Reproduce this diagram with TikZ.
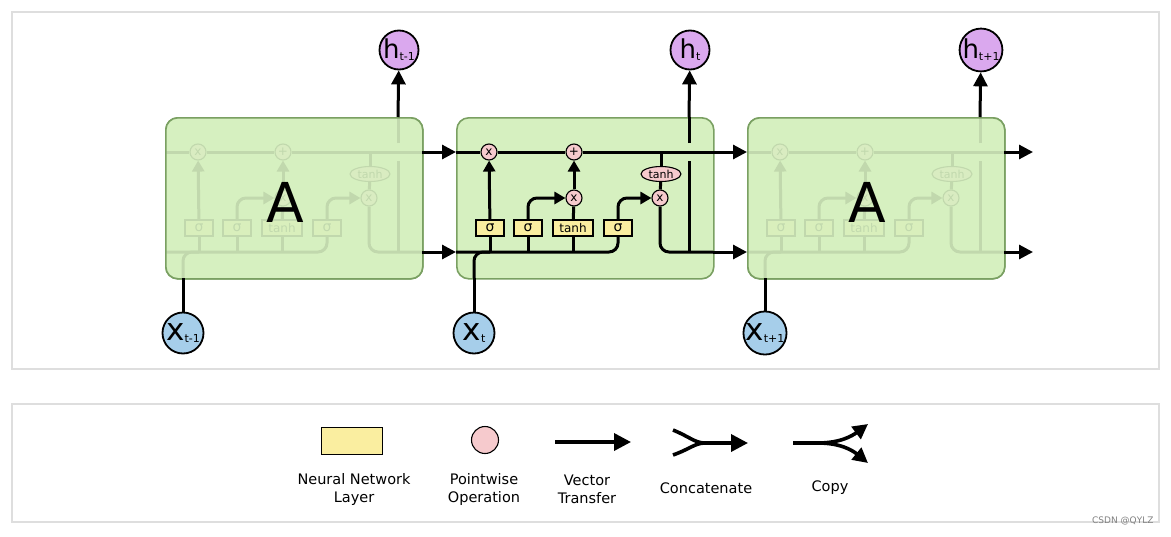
\documentclass[tikz,border=0pt]{standalone}
\usepackage{fontspec}
\setmainfont{DejaVu Sans}
\usetikzlibrary{arrows.meta,positioning,shapes.geometric}
\definecolor{cellfill}{RGB}{214,240,192}
\definecolor{celledge}{RGB}{122,160,98}
\definecolor{layerfill}{RGB}{250,238,160}
\definecolor{opfill}{RGB}{246,202,205}
\definecolor{hfill}{RGB}{218,168,238}
\definecolor{xfill}{RGB}{166,206,234}
\definecolor{panel}{RGB}{222,222,222}
\tikzset{
 wire/.style={line width=3pt,rounded corners=9pt},
 flow/.style={wire,-{Triangle[length=11pt,width=12pt]}},
 bigflow/.style={wire,-{Triangle[length=14pt,width=14pt]}},
 legwire/.style={line width=3.6pt,rounded corners=9pt},
 cellbox/.style={draw=celledge,line width=1.6pt,fill=cellfill,rounded corners=12pt,minimum width=257pt,minimum height=161pt,anchor=north west},
 layer/.style={draw,line width=1.1pt,fill=layerfill,minimum width=28pt,minimum height=16pt,inner sep=0pt,font=\fontsize{14}{14}\selectfont},
 pointop/.style={circle,draw,line width=1.1pt,fill=opfill,minimum size=16pt,inner sep=0pt,font=\fontsize{12}{12}\selectfont},
 tanhop/.style={ellipse,draw,line width=1.1pt,fill=opfill,minimum width=40pt,minimum height=15pt,inner sep=0pt,font=\fontsize{11}{11}\selectfont},
 hnode/.style={circle,draw,line width=1.8pt,fill=hfill,minimum size=39pt,inner sep=0pt},
 xnode/.style={circle,draw,line width=1.8pt,fill=xfill,minimum size=41pt,inner sep=0pt},
 panelbox/.style={draw=panel,line width=1.4pt},
 legend/.style={font=\fontsize{14.5}{18}\selectfont,align=center}
}
\newcommand\subtag[1]{\raisebox{-2pt}{\fontsize{11}{11}\selectfont#1}}
\begin{document}
\begin{tikzpicture}[x=1pt,y=-1pt]
\useasboundingbox (0,0) rectangle (1171,536);
\draw[panelbox] (12,12) rectangle (1159,369);
\draw[panelbox] (12,404) rectangle (1159,522);
\foreach \i/\sub in {1/t-1,2/t,3/t+1}{
 \pgfmathtruncatemacro\off{165+291*(\i-1)}
 \node[cellbox] (cell\i) at (\off,117) {};
 \begin{scope}[shift={(\off,0)}]
 \coordinate (cin\i) at (0,152); \coordinate (cout\i) at (257,152);
 \coordinate (bin\i) at (0,252); \coordinate (bout\i) at (257,252);
 \coordinate (xb\i) at (18,278); \coordinate (ht\i) at (233,117);
 \coordinate (hb\i) at (233,252); \coordinate (hg\i) at (233,161);
 \coordinate (hk\i) at (233,143);
 \node[pointop] (fx\i) at (33,152) {x};
 \node[pointop] (ad\i) at (118,152) {+};
 \node[pointop] (ix\i) at (118,198) {x};
 \node[pointop] (ox\i) at (204,198) {x};
 \node[tanhop] (th\i) at (205,174) {tanh};
 \node[layer] (s1\i) at (34,228) {σ};
 \node[layer] (s2\i) at (72,228) {σ};
 \node[layer,minimum width=40pt,font=\fontsize{12}{12}\selectfont] (tb\i) at (117,228) {tanh};
 \node[layer] (s3\i) at (162,228) {σ};
 \end{scope}
 \draw[wire] (cin\i) -- (fx\i) -- (ad\i) -- (cout\i);
 \draw[wire] (xb\i) |- (s1\i |- bin\i);
 \draw[wire] (bin\i) -| (s3\i);
 \draw[wire] (s1\i |- bin\i) -- (s1\i);
 \draw[flow] (s1\i) -- (fx\i);
 \draw[wire] (s2\i |- bin\i) -- (s2\i);
 \draw[flow] (s2\i) |- (ix\i);
 \draw[wire] (tb\i |- bin\i) -- (tb\i);
 \draw[wire] (tb\i) -- (ix\i);
 \draw[flow] (ix\i) -- (ad\i);
 \draw[flow] (s3\i) |- (ox\i);
 \draw[wire] (th\i |- cin\i) -- (th\i);
 \draw[wire] (th\i) -- (ox\i);
 \draw[wire] (ox\i) |- (bout\i);
 \draw[wire] (hb\i) -- (hg\i);
 \draw[wire] (hk\i) -- (ht\i);
 \ifnum\i=2\else
 \node[cellbox,fill opacity=.9] (fade\i) at (\off,117) {};
 \node[font=\fontsize{55}{55}\selectfont,inner sep=0pt,text depth=0pt] (a\i) at (\off+120,202) {A};
 \fi
 \node[hnode] (h\i) at (\off+234,50) {\fontsize{26}{26}\selectfont h\subtag{\sub}};
 \node[xnode] (x\i) at (\off+18,333) {\fontsize{31}{31}\selectfont x\subtag{\sub}};
 \draw[bigflow] (ht\i) -- (h\i);
 \draw[wire] (x\i) -- (xb\i);
}
\coordinate (cend) at (1033,152);
\coordinate (bend) at (1033,252);
\draw[bigflow] (cout1) -- (cin2);
\draw[bigflow] (bout1) -- (bin2);
\draw[bigflow] (cout2) -- (cin3);
\draw[bigflow] (bout2) -- (bin3);
\draw[bigflow] (cout3) -- (cend);
\draw[bigflow] (bout3) -- (bend);
% legend
\node[layer,minimum width=61pt,minimum height=27pt] (lglayer) at (352,441) {};
\node[pointop,minimum size=27pt] (lgop) at (485,440) {};
\coordinate (vs) at (555,442); \coordinate (ve) at (631,442);
\draw[legwire,-{Triangle[length=17pt,width=17pt]}] (vs) -- (ve);
\coordinate (ca) at (673,430); \coordinate (cb) at (673,455);
\coordinate (cm) at (705,443); \coordinate (ce) at (748,443);
\draw[legwire] (ca) .. controls (690,437) and (695,443) .. (cm);
\draw[legwire] (cb) .. controls (690,449) and (695,443) .. (cm);
\draw[legwire,-{Triangle[length=17pt,width=17pt]}] (cm) -- (ce);
\coordinate (cp0) at (793,443); \coordinate (cp1) at (818,443);
\coordinate (cpa) at (868,424); \coordinate (cpb) at (868,463);
\draw[legwire] (cp0) -- (cp1);
\draw[legwire,-{Triangle[length=15pt,width=15pt]}] (cp1) .. controls (840,443) and (852,436) .. (cpa);
\draw[legwire,-{Triangle[length=15pt,width=15pt]}] (cp1) .. controls (840,443) and (852,450) .. (cpb);
\node[legend] (tlayer) at (354,489) {Neural Network\\Layer};
\node[legend] (top) at (484,489) {Pointwise\\Operation};
\node[legend] (tvec) at (587,489) {Vector\\Transfer};
\node[legend] (tcat) at (706,488) {Concatenate};
\node[legend] (tcopy) at (830,488) {Copy};
\node[text=gray,font=\fontsize{9}{9}\selectfont,anchor=east] (mark) at (1157,521) {CSDN @QYLZ};
\end{tikzpicture}
\end{document}
